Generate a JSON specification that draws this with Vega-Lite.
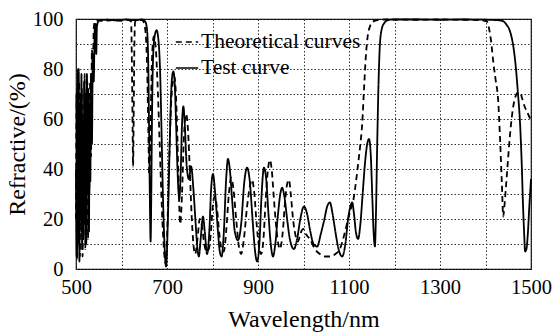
{
  "$schema": "https://vega.github.io/schema/vega-lite/v6.json",
  "autosize": "none",
  "width": 455,
  "height": 250,
  "padding": {"left": 76, "top": 19, "right": 28, "bottom": 64},
  "background": "white",
  "config": {
    "view": {"stroke": "black", "strokeWidth": 1.2},
    "font": "Liberation Serif",
    "axis": {
      "labelFont": "Liberation Serif",
      "titleFont": "Liberation Serif",
      "labelFontSize": 20.5,
      "titleFontSize": 24,
      "titleFontWeight": "normal",
      "labelColor": "black",
      "titleColor": "black",
      "labelFlush": false,
      "labelOverlap": false,
      "domain": false,
      "ticks": false,
      "grid": true,
      "gridColor": "#333",
      "gridDash": [1.5, 2],
      "gridWidth": 1
    },
    "legend": {
      "labelFont": "Liberation Serif",
      "labelFontSize": 21.5,
      "labelColor": "black"
    }
  },
  "datasets": {
    "test": [
      {"x":500,"y":40},{"x":501.5,"y":5},{"x":503,"y":72},{"x":504.5,"y":15},{"x":506,"y":80},{"x":507.5,"y":3},{"x":509,"y":65},{"x":510.5,"y":20},{"x":512,"y":78},{"x":513.5,"y":8},{"x":515,"y":55},{"x":516.5,"y":12},{"x":518,"y":75},{"x":519.5,"y":25},{"x":521,"y":70},{"x":522.5,"y":10},{"x":524,"y":78},{"x":525.5,"y":40},{"x":527,"y":72},{"x":528.5,"y":15},{"x":530,"y":65},{"x":531.5,"y":35},{"x":533,"y":78},{"x":535,"y":50},{"x":537,"y":85},{"x":539,"y":75},{"x":541,"y":95},{"x":543,"y":98},{"x":544.5,"y":86},{"x":546,"y":97},{"x":549,"y":99},{"x":553,"y":99.5},{"x":570,"y":99.7},{"x":590,"y":99.4},{"x":610,"y":99.8},{"x":630,"y":99.5},{"x":645,"y":99.8},{"x":652,"y":99},{"x":656,"y":96},{"x":659,"y":80},{"x":661,"y":50},{"x":662.5,"y":25},{"x":664,"y":11},{"x":665.5,"y":30},{"x":667,"y":60},{"x":669,"y":82},{"x":672,"y":92},{"x":677,"y":95.5},{"x":681,"y":92},{"x":685,"y":78},{"x":688,"y":55},{"x":691,"y":30},{"x":694,"y":12},{"x":698,"y":1},{"x":702,"y":20},{"x":706,"y":50},{"x":709,"y":70},{"x":712,"y":78},{"x":714,"y":79},{"x":717,"y":74},{"x":720,"y":58},{"x":723,"y":40},{"x":727,"y":28},{"x":730,"y":38},{"x":733,"y":58},{"x":736,"y":65},{"x":739,"y":58},{"x":743,"y":42},{"x":748,"y":36},{"x":753,"y":41},{"x":758,"y":32},{"x":763,"y":18},{"x":767,"y":8},{"x":770,"y":5},{"x":774,"y":12},{"x":779,"y":21},{"x":783,"y":15},{"x":788,"y":6},{"x":793,"y":15},{"x":797,"y":32},{"x":801,"y":38},{"x":806,"y":30},{"x":812,"y":15},{"x":816,"y":7},{"x":820,"y":5},{"x":825,"y":15},{"x":830,"y":36},{"x":834,"y":44},{"x":838,"y":40},{"x":843,"y":28},{"x":849,"y":15},{"x":856,"y":11.5},{"x":863,"y":18},{"x":870,"y":35},{"x":876,"y":40.5},{"x":882,"y":35},{"x":888,"y":20},{"x":893,"y":8},{"x":898,"y":3},{"x":903,"y":10},{"x":908,"y":30},{"x":913,"y":40.5},{"x":918,"y":36},{"x":923,"y":22},{"x":928,"y":10},{"x":933,"y":5},{"x":938,"y":10},{"x":944,"y":22},{"x":949,"y":30},{"x":953,"y":32.5},{"x":958,"y":29},{"x":964,"y":20},{"x":970,"y":12},{"x":979,"y":8},{"x":986,"y":12},{"x":993,"y":20},{"x":1001,"y":25},{"x":1008,"y":22},{"x":1015,"y":15},{"x":1022,"y":10},{"x":1030,"y":9},{"x":1038,"y":14},{"x":1046,"y":20},{"x":1052,"y":25},{"x":1058,"y":26.6},{"x":1064,"y":22},{"x":1070,"y":15},{"x":1077,"y":8},{"x":1085,"y":5},{"x":1092,"y":10},{"x":1098,"y":20},{"x":1103,"y":25},{"x":1107,"y":26.6},{"x":1111,"y":22},{"x":1115,"y":15},{"x":1120,"y":12},{"x":1125,"y":18},{"x":1130,"y":30},{"x":1135,"y":42},{"x":1140,"y":50},{"x":1144,"y":52},{"x":1148,"y":45},{"x":1151,"y":30},{"x":1154,"y":15},{"x":1157,"y":9},{"x":1159,"y":20},{"x":1162,"y":50},{"x":1165,"y":75},{"x":1168,"y":90},{"x":1172,"y":96},{"x":1178,"y":98.5},{"x":1185,"y":99.5},{"x":1195,"y":99.8},{"x":1250,"y":99.8},{"x":1300,"y":99.7},{"x":1350,"y":99.8},{"x":1400,"y":99.7},{"x":1430,"y":99.5},{"x":1440,"y":99},{"x":1447,"y":97.5},{"x":1452,"y":96},{"x":1457,"y":93},{"x":1462,"y":88},{"x":1467,"y":80},{"x":1471,"y":71},{"x":1476,"y":58},{"x":1480,"y":40},{"x":1482,"y":28},{"x":1485,"y":14},{"x":1487,"y":7},{"x":1490,"y":8},{"x":1493,"y":14},{"x":1496,"y":24},{"x":1500,"y":36}
    ],
    "theo": [
      {"x":500,"y":20},{"x":501,"y":70},{"x":502.5,"y":4},{"x":504,"y":80},{"x":505.5,"y":10},{"x":507,"y":75},{"x":508.5,"y":5},{"x":510,"y":70},{"x":511.5,"y":15},{"x":513,"y":72},{"x":514.5,"y":5},{"x":516,"y":60},{"x":517.5,"y":18},{"x":519,"y":78},{"x":520.5,"y":8},{"x":522,"y":65},{"x":523.5,"y":30},{"x":525,"y":75},{"x":526.5,"y":12},{"x":528,"y":70},{"x":529.5,"y":30},{"x":531,"y":75},{"x":533,"y":45},{"x":535,"y":88},{"x":537,"y":80},{"x":539,"y":96},{"x":541,"y":99},{"x":545,"y":99.5},{"x":560,"y":99.2},{"x":580,"y":99.6},{"x":600,"y":99.3},{"x":615,"y":99.6},{"x":621,"y":99},{"x":623,"y":80},{"x":624.5,"y":55},{"x":625.5,"y":41},{"x":626.5,"y":55},{"x":628,"y":85},{"x":630,"y":99},{"x":645,"y":99.6},{"x":650,"y":98},{"x":654,"y":92},{"x":657,"y":75},{"x":659,"y":55},{"x":661,"y":38},{"x":663,"y":45},{"x":665,"y":68},{"x":668,"y":88},{"x":671,"y":93},{"x":675,"y":89},{"x":679,"y":75},{"x":683,"y":55},{"x":687,"y":33},{"x":691,"y":15},{"x":695,"y":4},{"x":697,"y":2},{"x":701,"y":18},{"x":705,"y":45},{"x":709,"y":66},{"x":713,"y":75},{"x":716,"y":77},{"x":719,"y":72},{"x":722,"y":58},{"x":725,"y":38},{"x":729,"y":18},{"x":733,"y":30},{"x":737,"y":52},{"x":742,"y":62},{"x":746,"y":56},{"x":750,"y":40},{"x":754,"y":22},{"x":758,"y":10},{"x":762,"y":6},{"x":767,"y":12},{"x":772,"y":20},{"x":777,"y":17},{"x":782,"y":10},{"x":787,"y":7},{"x":792,"y":8},{"x":797,"y":16},{"x":801,"y":26},{"x":805,"y":29},{"x":810,"y":24},{"x":815,"y":14},{"x":820,"y":8},{"x":825,"y":7},{"x":830,"y":15},{"x":836,"y":30},{"x":841,"y":36.5},{"x":846,"y":32},{"x":852,"y":20},{"x":858,"y":9},{"x":863,"y":6},{"x":869,"y":12},{"x":876,"y":25},{"x":882,"y":33},{"x":887,"y":35.7},{"x":892,"y":30},{"x":897,"y":18},{"x":902,"y":9},{"x":907,"y":6},{"x":912,"y":12},{"x":917,"y":28},{"x":922,"y":40},{"x":926,"y":43.6},{"x":930,"y":40},{"x":935,"y":28},{"x":941,"y":15},{"x":948,"y":8},{"x":954,"y":14},{"x":960,"y":28},{"x":964,"y":34},{"x":968,"y":35.7},{"x":972,"y":30},{"x":977,"y":20},{"x":983,"y":13},{"x":988,"y":11},{"x":993,"y":14},{"x":999,"y":16},{"x":1005,"y":14},{"x":1014,"y":12},{"x":1025,"y":8},{"x":1036,"y":6},{"x":1047,"y":5},{"x":1058,"y":5},{"x":1070,"y":6},{"x":1080,"y":8},{"x":1090,"y":14},{"x":1098,"y":20},{"x":1104,"y":24},{"x":1109,"y":27},{"x":1114,"y":33},{"x":1120,"y":42},{"x":1125,"y":50},{"x":1129,"y":58},{"x":1133,"y":72},{"x":1137,"y":85},{"x":1141,"y":93},{"x":1146,"y":97},{"x":1152,"y":98.8},{"x":1160,"y":99.5},{"x":1180,"y":99.8},{"x":1250,"y":99.7},{"x":1300,"y":99.8},{"x":1350,"y":99.7},{"x":1390,"y":99.5},{"x":1403,"y":99},{"x":1408,"y":96},{"x":1413,"y":90},{"x":1417,"y":83},{"x":1422,"y":76},{"x":1428,"y":67},{"x":1432,"y":52},{"x":1436,"y":34},{"x":1439,"y":21},{"x":1441,"y":24},{"x":1445,"y":33},{"x":1450,"y":45},{"x":1454,"y":54},{"x":1458,"y":61},{"x":1461,"y":65},{"x":1466,"y":69},{"x":1471,"y":70.5},{"x":1476,"y":70.5},{"x":1481,"y":68},{"x":1486,"y":65},{"x":1491,"y":63},{"x":1496,"y":61},{"x":1500,"y":59.5}
    ]
  },
  "encoding": {
    "x": {
      "field": "x", "type": "quantitative",
      "scale": {"domain": [500, 1500], "nice": false, "zero": false},
      "axis": {
        "title": "Wavelength/nm",
        "values": [500,600,700,800,900,1000,1100,1200,1300,1400,1500],
        "format": "d",
        "labelExpr": "datum.value % 200 == 100 ? datum.label : ''",
        "labelPadding": 8,
        "titlePadding": 10
      }
    },
    "y": {
      "field": "y", "type": "quantitative",
      "scale": {"domain": [0, 100], "nice": false},
      "axis": {
        "title": "Refractive/(%)",
        "values": [0,10,20,30,40,50,60,70,80,90,100],
        "labelExpr": "datum.value % 20 == 0 ? datum.label : ''",
        "labelPadding": 13,
        "titlePadding": 3
      }
    },
    "strokeDash": {
      "type": "nominal",
      "scale": {"domain": ["Theoretical curves", "Test curve"], "range": [[6, 4], [1, 0]]},
      "legend": {
        "title": null,
        "orient": "none",
        "legendX": 99,
        "legendY": 11,
        "symbolType": "stroke",
        "symbolSize": 500,
        "symbolStrokeColor": "black",
        "symbolStrokeWidth": 1.6,
        "labelOffset": 2,
        "rowPadding": 3
      }
    }
  },
  "layer": [
    {
      "data": {"name": "theo"},
      "mark": {"type": "line", "color": "black", "strokeWidth": 1.8, "interpolate": "monotone"},
      "encoding": {"strokeDash": {"datum": "Theoretical curves"}}
    },
    {
      "data": {"name": "test"},
      "mark": {"type": "line", "color": "black", "strokeWidth": 1.8, "interpolate": "monotone"},
      "encoding": {"strokeDash": {"datum": "Test curve"}}
    }
  ]
}
